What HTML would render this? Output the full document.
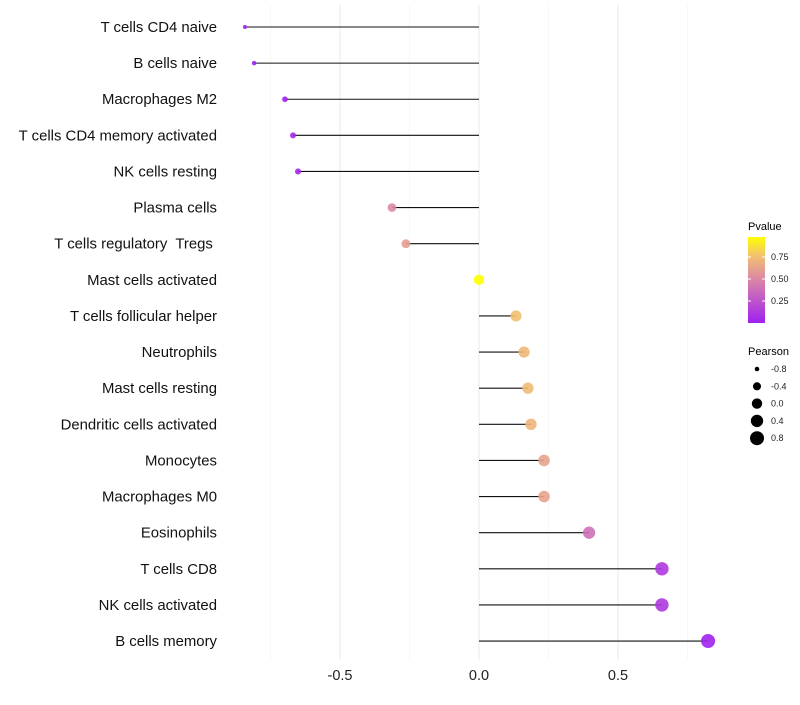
<!DOCTYPE html>
<html><head><meta charset="utf-8"><style>
body{margin:0;background:#fff;font-family:"Liberation Sans",sans-serif}
svg text{font-family:"Liberation Sans",sans-serif;white-space:pre}
</style></head><body>
<svg id="chart" width="800" height="700" xmlns="http://www.w3.org/2000/svg">
<g id="grid"></g>
<g id="ylabels"></g>
<g id="marks"></g>
<g id="xlabels"></g>
<g>
<defs><linearGradient id="pg" x1="0" y1="1" x2="0" y2="0">
<stop offset="0" stop-color="#A020F0"/><stop offset="0.5" stop-color="#D985A8"/><stop offset="0.78" stop-color="#F2C070"/><stop offset="1" stop-color="#FFFF00"/></linearGradient></defs>
<text x="748" y="230" font-size="11">Pvalue</text>
<rect x="748" y="237" width="17" height="86" fill="url(#pg)"/>
<g id="pticks"></g>
</g>
<g>
<text x="748" y="355" font-size="11">Pearson</text>
<g id="sizeleg"></g>
</g>
</svg>
<script>
const categories=["T cells CD4 naive","B cells naive","Macrophages M2","T cells CD4 memory activated","NK cells resting","Plasma cells","T cells regulatory  Tregs ","Mast cells activated","T cells follicular helper","Neutrophils","Mast cells resting","Dendritic cells activated","Monocytes","Macrophages M0","Eosinophils","T cells CD8","NK cells activated","B cells memory"];
const pearson=[-0.842,-0.809,-0.698,-0.669,-0.651,-0.313,-0.263,0.0,0.133,0.162,0.176,0.187,0.234,0.234,0.396,0.658,0.658,0.824];
const pvalues=[0.0,0.0,0.02,0.03,0.04,0.52,0.62,1.0,0.78,0.74,0.76,0.73,0.64,0.64,0.4,0.12,0.12,0.01];
const xTicks=[-0.5,0,0.5];
const xTickLabels=["-0.5","0.0","0.5"];
const pTicks=[0.25,0.5,0.75];
const pTickLabels=["0.25","0.50","0.75"];
const sizeLegend=[-0.8,-0.4,0.0,0.4,0.8];
const sizeLegendLabels=["-0.8","-0.4","0.0","0.4","0.8"];

const NS="http://www.w3.org/2000/svg";
const X=v=>479+v*278;
const Y=i=>27+i*36.12;
const R=v=>Math.sqrt(Math.max(1,27.1+v*27.3));
const PY=p=>323-p*88;
function hex(h){return [1,3,5].map(i=>parseInt(h.substr(i,2),16));}
const stops=[[0,"#A020F0"],[0.5,"#D985A8"],[0.78,"#F2C070"],[1,"#FFFF00"]];
function col(p){for(let i=1;i<stops.length;i++){if(p<=stops[i][0]){const a=hex(stops[i-1][1]),b=hex(stops[i][1]);const t=(p-stops[i-1][0])/(stops[i][0]-stops[i-1][0]);return "rgb("+a.map((c,k)=>Math.round(c+(b[k]-c)*t)).join(",")+")";}}return stops[stops.length-1][1];}
function mk(t,a,parent){const e=document.createElementNS(NS,t);for(const k in a)e.setAttribute(k,a[k]);parent.appendChild(e);return e;}
const grid=document.getElementById("grid");
[-0.75,-0.25,0.25,0.75].forEach(v=>{const l=mk("line",{x1:X(v),x2:X(v),y1:5,y2:660,stroke:"#f3f3f3","stroke-width":0.6},grid);

});
xTicks.forEach((v,i)=>{const l=mk("line",{x1:X(v),x2:X(v),y1:5,y2:660,stroke:"#ebebeb","stroke-width":1.1},grid);


const t=mk("text",{x:X(v),y:680,"font-size":14.5,"text-anchor":"middle",fill:"#222"},document.getElementById("xlabels"));t.textContent=xTickLabels[i];

});
const marks=document.getElementById("marks"),yl=document.getElementById("ylabels");
categories.forEach((c,i)=>{
 const t=mk("text",{x:217,y:Y(i)+5,"font-size":14.9,"text-anchor":"end",fill:"#111"},yl);t.textContent=c;
 
 
 const l=mk("line",{x1:X(0),x2:X(pearson[i]),y1:Y(i),y2:Y(i),stroke:"#111","stroke-width":1.1},marks);
 
 
 const d=mk("circle",{cx:X(pearson[i]),cy:Y(i),r:R(pearson[i]),fill:col(pvalues[i]),"fill-opacity":0.9},marks);
 
 
});
const pt=document.getElementById("pticks");
pTicks.forEach((p,i)=>{mk("line",{x1:748,x2:751,y1:PY(p),y2:PY(p),stroke:"#fff"},pt);mk("line",{x1:762,x2:765,y1:PY(p),y2:PY(p),stroke:"#fff"},pt);
const t=mk("text",{x:771,y:PY(p)+3,"font-size":9,fill:"#222"},pt);t.textContent=pTickLabels[i];

});
const sl=document.getElementById("sizeleg");
sizeLegend.forEach((v,i)=>{const y=369+i*17.3;const c=mk("circle",{cx:757,cy:y,r:R(v),fill:"#000"},sl);


const t=mk("text",{x:771,y:y+3,"font-size":9,fill:"#222"},sl);t.textContent=sizeLegendLabels[i];

});
</script>
</body></html>
